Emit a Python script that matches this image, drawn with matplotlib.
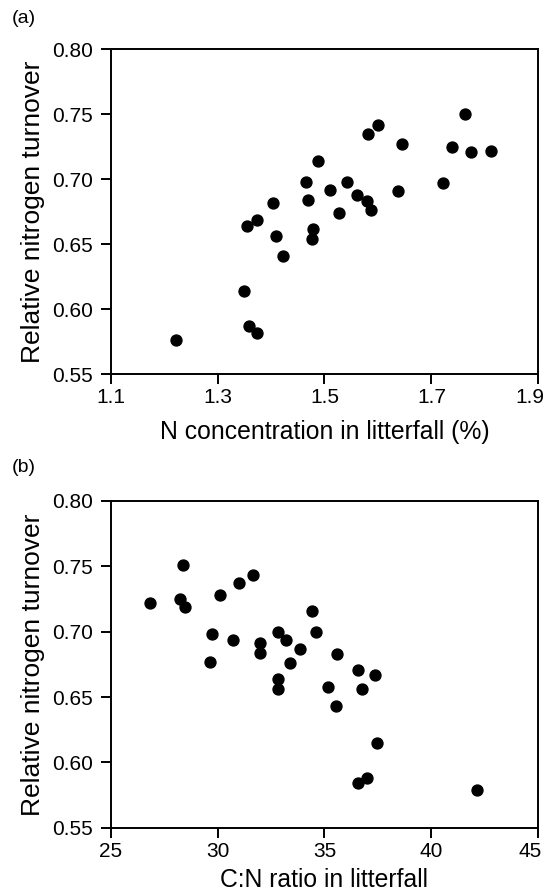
import matplotlib.pyplot as plt
import matplotlib.transforms as mtransforms
import numpy as np

plt.rcParams['font.family'] = ['Liberation Sans', 'DejaVu Sans']

# (a) N concentration in litterfall (%) vs relative nitrogen turnover
n_conc = [1.222, 1.350, 1.359, 1.373, 1.355, 1.374, 1.404, 1.409, 1.422,
          1.465, 1.469, 1.479, 1.477, 1.487, 1.510, 1.527, 1.543, 1.561,
          1.580, 1.587, 1.582, 1.601, 1.645, 1.637, 1.721, 1.739, 1.762,
          1.775, 1.812]
turn_a = [0.576, 0.614, 0.587, 0.582, 0.664, 0.669, 0.682, 0.656, 0.641,
          0.698, 0.684, 0.662, 0.654, 0.714, 0.692, 0.674, 0.698, 0.688,
          0.683, 0.676, 0.735, 0.742, 0.727, 0.691, 0.697, 0.725, 0.750,
          0.721, 0.722]

# (b) C:N ratio in litterfall vs relative nitrogen turnover
cn_ratio = [26.85, 28.40, 28.26, 28.46, 29.74, 29.64, 30.13, 30.72, 31.00,
            31.66, 31.97, 31.97, 32.81, 32.84, 32.84, 33.20, 33.37, 33.85,
            34.43, 34.59, 35.57, 35.16, 35.52, 36.58, 36.74, 37.36, 37.47,
            36.57, 36.99, 42.15]
turn_b = [0.722, 0.751, 0.725, 0.719, 0.698, 0.677, 0.728, 0.694, 0.737,
          0.743, 0.691, 0.684, 0.700, 0.664, 0.656, 0.694, 0.676, 0.687,
          0.716, 0.700, 0.683, 0.658, 0.643, 0.671, 0.656, 0.667, 0.615,
          0.584, 0.588, 0.579]

yticks = [0.55, 0.60, 0.65, 0.70, 0.75, 0.80]
xticks_a = [1.1, 1.3, 1.5, 1.7, 1.9]
xticks_b = [25, 30, 35, 40, 45]

fig = plt.figure(figsize=(5.49, 8.93), dpi=100)
ax1 = fig.add_axes([0.2016, 0.5809, 0.7789, 0.3639])
ax2 = fig.add_axes([0.2016, 0.0731, 0.7789, 0.3659])

for ax, x, y, xt, xl, fmt, xpad in [
        (ax1, n_conc, turn_a, xticks_a, 'N concentration in litterfall (%)', '%.1f', 9.5),
        (ax2, cn_ratio, turn_b, xticks_b, 'C:N ratio in litterfall', '%d', 5.5)]:
    ax.scatter(x, y, s=62, color='black', zorder=3)
    ax.set_xlim(xt[0], xt[-1])
    ax.set_ylim(0.55, 0.80)
    ax.set_xticks(xt)
    ax.set_xticklabels([fmt % v for v in xt])
    ax.set_yticks(yticks)
    ax.set_yticklabels(['%.2f' % v for v in yticks])
    ax.tick_params(direction='out', length=7, width=1.4, labelsize=15)
    ax.tick_params(axis='y', pad=5.5)
    ax.tick_params(axis='x', pad=3)
    for sp in ax.spines.values():
        sp.set_linewidth(1.4)
    ax.set_xlabel(xl, fontsize=17.8, labelpad=xpad)
    ax.set_ylabel('Relative nitrogen turnover', fontsize=19, labelpad=5)
    # keep the last x tick label inside the figure edge
    last = ax.get_xticklabels()[-1]
    last.set_transform(last.get_transform() +
                       mtransforms.ScaledTranslation(-6 / 72, 0, fig.dpi_scale_trans))

fig.text(0.022, 0.979, '(a)', fontsize=14, va='center', ha='left')
fig.text(0.022, 0.476, '(b)', fontsize=14, va='center', ha='left')

fig.savefig('out.png', dpi=100, facecolor='white')
